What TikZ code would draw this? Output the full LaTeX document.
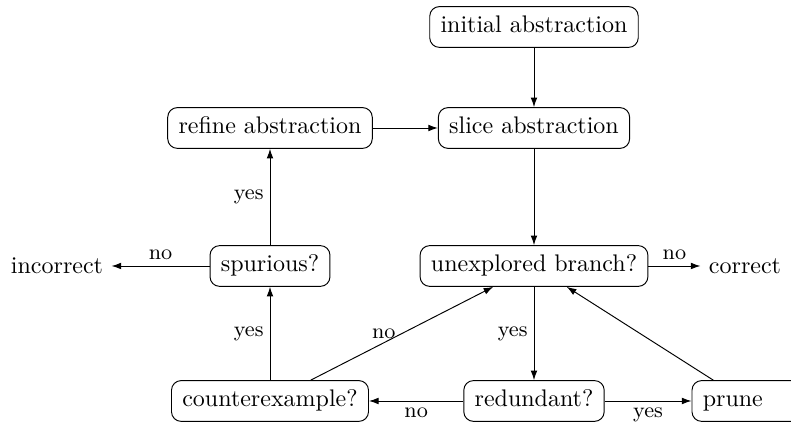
\documentclass[tikz,border=0pt]{standalone}
\usetikzlibrary{arrows.meta}
\begin{document}
\begin{tikzpicture}[x=0.41667pt, y=-0.41667pt,
  box/.style={draw, rounded corners=4pt, inner xsep=4.5pt, inner ysep=4.05pt,
    text height=6.94pt, text depth=1.94pt, line width=0.4pt},
  plain/.style={inner sep=3.33pt},
  flow/.style={-{Latex[length=4pt, width=2.8pt]}, line width=0.4pt},
  lbl/.style={font=\small, inner sep=2.5pt}]
\clip (0,0) rectangle (791,423);

% steps of the refinement loop
\node[box] (init) at (534,27) {initial abstraction};
\node[box] (slice) at (534,128) {slice abstraction};
\node[box] (refine) at (270,128) {refine abstraction};
\node[box] (unexp) at (534,266) {unexplored branch?};
\node[box] (spur) at (270,266) {spurious?};
\node[box] (cex) at (270,401) {counterexample?};
\node[box] (redund) at (534,401) {redundant?};
\node[box, text width=36pt, align=left] (prune) at (746,401) {prune};

% verdicts
\node[plain] (incorrect) at (57,266) {incorrect};
\node[plain] (correct) at (745,266) {correct};

% connectors
\draw[flow] (init) -- (slice);
\draw[flow] (refine) -- (slice);
\draw[flow] (slice) -- (unexp);
\draw[flow] (unexp) -- node[lbl, above] {no} (correct);
\draw[flow] (unexp) -- node[lbl, left] {yes} (redund);
\draw[flow] (redund) -- node[lbl, below] {no} (cex);
\draw[flow] (redund) -- node[lbl, below] {yes} (prune);
\draw[flow] (prune) -- (unexp);
\draw[flow] (cex) -- node[lbl, left] {no} (unexp);
\draw[flow] (cex) -- node[lbl, left] {yes} (spur);
\draw[flow] (spur) -- node[lbl, above] {no} (incorrect);
\draw[flow] (spur) -- node[lbl, left] {yes} (refine);
\end{tikzpicture}
\end{document}
